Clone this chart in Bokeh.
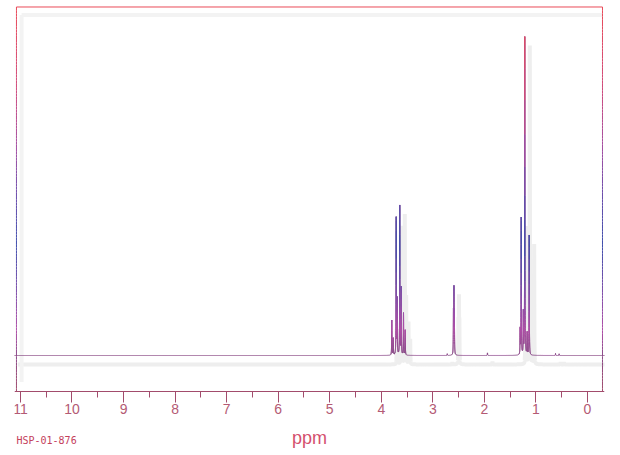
import numpy as np
from bokeh.plotting import figure
from bokeh.models import Range1d, SingleIntervalTicker, Label, ColumnDataSource
from bokeh.embed import file_html
from bokeh.resources import INLINE

# ---- data (ppm, relative intensity) ----
peak_ppm = [3.796, 3.711, 3.641, 3.569,
            3.769, 3.692, 3.614, 3.536,
            2.600, 2.590, 2.582,
            1.286, 1.216, 1.131,
            1.306, 1.245, 1.170,
            2.720, 1.940, 0.620, 0.550]
peak_int = [11.0, 43.1, 46.9, 13.2,
            5.3, 17.3, 21.1, 7.9,
            13.0, 19.5, 12.0,
            43.1, 100.0, 37.7,
            7.9, 13.2, 6.9,
            0.5, 0.8, 0.6, 0.5]
tick_values = list(range(0, 12))
x_label = "ppm"
sample_id = "HSP-01-876"

# ---- line shape ----
hwhm = 0.003
grid = [np.arange(-0.35, 11.15, 0.002)]
for pp in peak_ppm:
    grid.append(np.arange(pp - 0.04, pp + 0.04, 0.0005))
    grid.append(np.array([pp]))
xs = np.unique(np.concatenate(grid))
ys = np.zeros_like(xs)
for pp, hh in zip(peak_ppm, peak_int):
    ys += hh / (1.0 + ((xs - pp) / hwhm) ** 2)

# ---- colour gradient by height ----
anchors = [(-11.3, "#a24c6c"), (0.0, "#8a4a88"), (8.0, "#b04ea8"),
           (35.0, "#3f4fae"), (50.0, "#6a4cac"), (65.0, "#a24ea2"),
           (85.0, "#d24a7a"), (110.0, "#ea4a58")]
a_v = np.array([a[0] for a in anchors])
a_rgb = np.array([[int(a[1][i:i + 2], 16) for i in (1, 3, 5)] for a in anchors], float)


def col(v):
    r = np.interp(v, a_v, a_rgb[:, 0])
    g = np.interp(v, a_v, a_rgb[:, 1])
    b = np.interp(v, a_v, a_rgb[:, 2])
    return "#%02x%02x%02x" % (int(r), int(g), int(b))


Y0, Y1 = -31.45, 110.06
X0, X1 = 11.115, -0.330
BOX_L, BOX_R, BOX_T, BOX_B = 11.077, -0.291, 109.59, -11.32

p = figure(width=620, height=455, output_backend="svg", toolbar_location=None,
           x_range=Range1d(X0, X1), y_range=Range1d(Y0, Y1),
           y_axis_location=None, min_border_left=14, min_border_right=16,
           min_border_top=5, min_border_bottom=0)
p.outline_line_color = None
p.grid.visible = False
p.background_fill_color = "white"
p.border_fill_color = "white"

# soft shadows
sdx, sdy = -0.097, -2.83
p.line(xs + sdx, ys + sdy, line_color="#eeeeee", line_width=4)
p.line([BOX_L - 0.1, BOX_L - 0.1], [BOX_B + 3, BOX_T - 2.5], line_color="#f3f3f3", line_width=4)
p.line([BOX_L - 0.1, BOX_R], [BOX_T - 2.5, BOX_T - 2.5], line_color="#f3f3f3", line_width=4)

# spectrum baseline + gradient segments
p.line(xs, ys, line_color="#8a4a88", line_width=1)
m = np.maximum(ys[:-1], ys[1:]) > 0.4
seg = ColumnDataSource(dict(
    x0=xs[:-1][m], x1=xs[1:][m], y0=ys[:-1][m], y1=ys[1:][m],
    c=[col(v) for v in (0.5 * (ys[:-1] + ys[1:]))[m]]))
p.segment("x0", "y0", "x1", "y1", source=seg, line_color="c", line_width=1)

# frame with gradient edges
fy = np.linspace(BOX_B, BOX_T, 121)
fc = [col(v) for v in 0.5 * (fy[:-1] + fy[1:])]
for bx in (BOX_L, BOX_R):
    src = ColumnDataSource(dict(x0=[bx] * 120, x1=[bx] * 120, y0=fy[:-1], y1=fy[1:], c=fc))
    p.segment("x0", "y0", "x1", "y1", source=src, line_color="c", line_width=1)
p.line([BOX_L, BOX_R], [BOX_T, BOX_T], line_color=col(110), line_width=1)

# x axis (fixed at the bottom of the box)
ax = p.xaxis[0]
ax.fixed_location = BOX_B
ax.ticker = SingleIntervalTicker(interval=1, num_minor_ticks=2)
ax.axis_line_color = "#a24c6c"
ax.major_tick_line_color = "#a24c6c"
ax.minor_tick_line_color = "#a24c6c"
ax.major_tick_in = 0
ax.minor_tick_in = 0
ax.major_tick_out = 11
ax.minor_tick_out = 6
ax.major_label_standoff = 2
ax.major_label_text_font = "Liberation Sans"
ax.major_label_text_font_size = "14px"
ax.major_label_text_color = "#b45a74"
ax.axis_label = x_label
ax.axis_label_text_font = "Liberation Sans"
ax.axis_label_text_font_style = "normal"
ax.axis_label_text_font_size = "18px"
ax.axis_label_text_color = "#d4506e"
ax.axis_label_standoff = 10

p.add_layout(Label(x=BOX_L, y=-26.7, text=sample_id,
                   text_font="DejaVu Sans Mono", text_font_size="10px",
                   text_color="#c4405c", text_baseline="middle", text_align="left"))

open("out.html", "w").write(file_html(p, INLINE))
